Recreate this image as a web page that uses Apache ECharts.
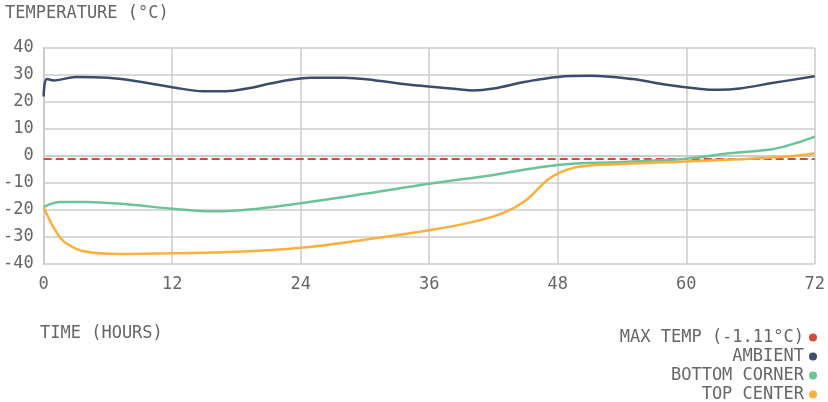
<!DOCTYPE html>
<html><head><meta charset="utf-8">
<script src="https://cdn.jsdelivr.net/npm/echarts@6/dist/echarts.min.js"></script>
<style>html,body{margin:0;padding:0;background:#fff}#c{width:828px;height:402px}</style>
</head><body><div id="c"></div>
<script>
const maxTemp = -1.11;
const ambientT = [0,0.3,1,3,6,9,12,15,17,19,22,25,28,31,34,38,40,42,45,48,51,55,58,61,63,65,68,72];
const ambientV = [22,28.5,28,29.3,29,27.5,25.5,24,24,25,27.5,29,29,28,26.5,25,24.3,25,27.5,29.3,29.7,28.5,26.5,25,24.5,25,27,29.5];
const bottomT = [0,0.5,1.5,4,8,12,16,20,24,30,36,42,48,54,60,64,68,70,72];
const bottomV = [-19,-18,-17,-17,-18,-19.5,-20.5,-19.5,-17.5,-14,-10.3,-7,-3.3,-2.2,-1,1,2.5,4.5,7.2];
const topT = [0,1,2,4,7,12,18,24,30,36,40,43,45,47,48,50,54,60,66,70,72];
const topV = [-19,-27,-32,-35.5,-36.3,-36,-35.5,-34,-31,-27.5,-24.5,-21,-16.5,-9,-6.5,-4,-3,-2,-1,0,1];
const xTicks = [0,72,12];
const yTicks = [-40,40,10];
const font = 'DejaVu Sans Mono';
const zip = (a,b)=>a.map((x,i)=>[x,b[i]]);
const chart = echarts.init(document.getElementById('c'));
chart.setOption({
  animation:false,
  textStyle:{fontFamily:font},
  grid:{left:42,right:8,top:48,bottom:138},
  title:{text:'TEMPERATURE (°C)',left:0,top:0,textStyle:{fontFamily:font,fontSize:17,fontWeight:'normal',color:'#666'}},
  graphic:[{type:'text',left:40,top:325,style:{text:'TIME (HOURS)',font:'17px "DejaVu Sans Mono"',fill:'#666'}}],
  legend:{orient:'vertical',right:6,top:324,height:100,align:'right',itemGap:2,itemWidth:8,itemHeight:8,icon:'circle',
    textStyle:{fontFamily:font,fontSize:17,color:'#666',padding:[0,0,0,0]},
    data:['MAX TEMP (-1.11°C)','AMBIENT','BOTTOM CORNER','TOP CENTER']},
  xAxis:{type:'value',min:xTicks[0],max:xTicks[1],interval:xTicks[2],
    axisLine:{show:true,lineStyle:{color:'#ccc',width:2}},axisTick:{show:false},
    splitLine:{lineStyle:{color:'#ccc',width:1.5}},
    axisLabel:{color:'#666',fontSize:17,margin:12,fontFamily:font}},
  yAxis:{type:'value',min:yTicks[0],max:yTicks[1],interval:yTicks[2],
    axisLine:{show:true,lineStyle:{color:'#ccc',width:2}},axisTick:{show:false},
    splitLine:{lineStyle:{color:'#ccc',width:1.5}},
    axisLabel:{color:'#666',fontSize:17,margin:10,fontFamily:font}},
  series:[
    {name:'MAX TEMP (-1.11°C)',type:'line',data:[[xTicks[0],maxTemp],[xTicks[1],maxTemp]],showSymbol:false,
      color:'#d9493a',lineStyle:{type:'dashed',width:2}},
    {name:'AMBIENT',type:'line',smooth:0.4,data:zip(ambientT,ambientV),showSymbol:false,color:'#3e4c6c',lineStyle:{width:2.5}},
    {name:'BOTTOM CORNER',type:'line',smooth:0.4,data:zip(bottomT,bottomV),showSymbol:false,color:'#6cc39a',lineStyle:{width:2.5}},
    {name:'TOP CENTER',type:'line',smooth:0.4,data:zip(topT,topV),showSymbol:false,color:'#fbb03b',lineStyle:{width:2.5}}
  ]
});
</script></body></html>
